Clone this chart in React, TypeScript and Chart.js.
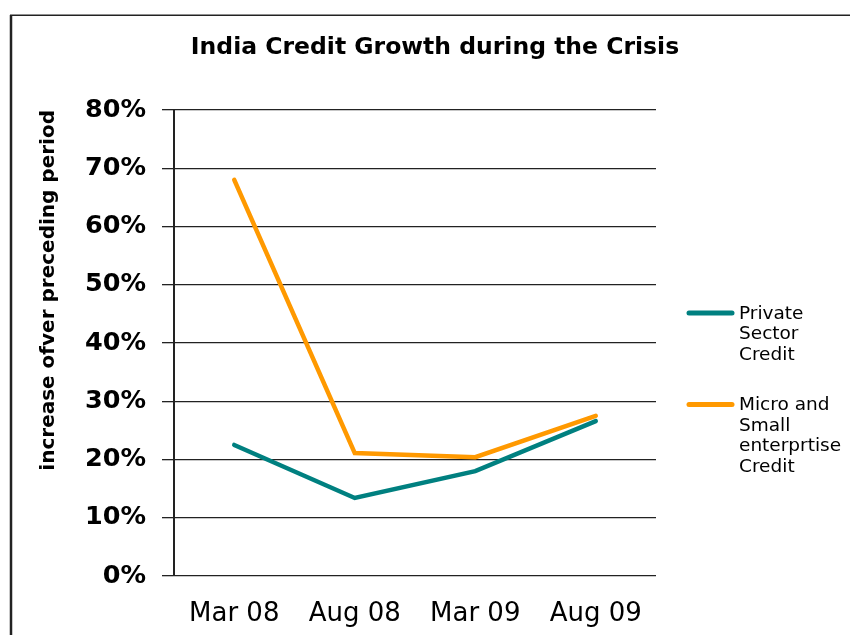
import React, { useEffect, useRef } from 'react';
import { Chart, registerables } from 'chart.js';

Chart.register(...registerables);

const chartTitle = 'India Credit Growth during the Crisis';
const yAxisTitle = 'increase ofver preceding period';
const categories = ['Mar 08', 'Aug 08', 'Mar 09', 'Aug 09'];
const privateSectorCredit = [22.5, 13.4, 18.0, 26.6];
const microSmallCredit = [68.0, 21.1, 20.4, 27.5];
const seriesLabels = ['Private Sector Credit', 'Micro and Small enterprtise Credit'];
const seriesColors = ['#008080', '#FF9900'];
const yMin = 0;
const yMax = 80;
const yStep = 10;

const FONT = "'DejaVu Sans', 'Liberation Sans', Arial, sans-serif";

function wrapWords(ctx: CanvasRenderingContext2D, text: string, maxW: number): string[] {
  const words = text.split(' ');
  const lines: string[] = [];
  let cur = '';
  for (const w of words) {
    const test = cur ? cur + ' ' + w : w;
    if (cur && ctx.measureText(test).width > maxW) {
      lines.push(cur);
      cur = w;
    } else {
      cur = test;
    }
  }
  if (cur) lines.push(cur);
  return lines;
}

const decorPlugin = {
  id: 'decor',
  beforeDraw(chart: any) {
    const ctx: CanvasRenderingContext2D = chart.ctx;
    ctx.save();
    ctx.fillStyle = '#ffffff';
    ctx.fillRect(0, 0, chart.width, chart.height);
    ctx.strokeStyle = '#222222';
    ctx.lineWidth = 2.5;
    ctx.beginPath();
    ctx.moveTo(11, chart.height);
    ctx.lineTo(11, 15);
    ctx.stroke();
    ctx.lineWidth = 1.5;
    ctx.beginPath();
    ctx.moveTo(10, 15.25);
    ctx.lineTo(chart.width, 15.25);
    ctx.stroke();
    ctx.restore();
  },
  afterDraw(chart: any) {
    const ctx: CanvasRenderingContext2D = chart.ctx;
    const area = chart.chartArea;
    ctx.save();
    // title
    ctx.fillStyle = '#000000';
    ctx.font = `bold 23.5px ${FONT}`;
    ctx.textAlign = 'center';
    ctx.textBaseline = 'middle';
    ctx.fillText(chartTitle, 435, 48);
    // legend
    const lx0 = area.right + 33;
    const lx1 = area.right + 76;
    const tx = area.right + 83;
    const lineH = 20.5;
    let y = area.top + 203;
    ctx.font = `18.5px ${FONT}`;
    ctx.textAlign = 'left';
    const maxW = chart.width - tx - 2;
    chart.data.datasets.forEach((ds: any) => {
      const lines = wrapWords(ctx, ds.label, maxW);
      ctx.strokeStyle = ds.borderColor;
      ctx.lineWidth = 5;
      ctx.lineCap = 'round';
      ctx.beginPath();
      ctx.moveTo(lx0, y);
      ctx.lineTo(lx1, y);
      ctx.stroke();
      ctx.fillStyle = '#000000';
      lines.forEach((l, i) => ctx.fillText(l, tx, y + 1 + i * lineH));
      y += lines.length * lineH + 30;
    });
    ctx.restore();
  },
};

export default function App() {
  const canvasRef = useRef<HTMLCanvasElement | null>(null);

  useEffect(() => {
    if (!canvasRef.current) return;
    const chart = new Chart(canvasRef.current, {
      type: 'line',
      data: {
        labels: categories,
        datasets: [
          {
            label: seriesLabels[0],
            data: privateSectorCredit,
            borderColor: seriesColors[0],
            backgroundColor: seriesColors[0],
            borderWidth: 4.5,
            pointRadius: 0,
            borderCapStyle: 'round',
            tension: 0,
          },
          {
            label: seriesLabels[1],
            data: microSmallCredit,
            borderColor: seriesColors[1],
            backgroundColor: seriesColors[1],
            borderWidth: 4.5,
            pointRadius: 0,
            borderCapStyle: 'round',
            tension: 0,
          },
        ],
      },
      options: {
        animation: false,
        responsive: true,
        maintainAspectRatio: false,
        layout: { padding: { left: 0, right: 194, top: 110, bottom: 0 } },
        plugins: {
          legend: { display: false },
          title: { display: false },
          tooltip: { enabled: false },
        },
        scales: {
          x: {
            offset: true,
            grid: { display: false },
            border: { display: false },
            ticks: {
              color: '#000000',
              padding: 15,
              font: { family: FONT, size: 26 },
              maxRotation: 0,
            },
            afterFit: (scale: any) => {
              scale.height = 59;
            },
          },
          y: {
            min: yMin,
            max: yMax,
            grid: {
              color: '#222222',
              lineWidth: 1.3,
              tickLength: 12,
              drawTicks: true,
            },
            border: { display: true, color: '#222222', width: 2 },
            ticks: {
              stepSize: yStep,
              color: '#000000',
              padding: 16,
              font: { family: FONT, size: 25.5, weight: 'bold' },
              callback: (v: any) => `${v}%`,
            },
            title: {
              display: true,
              text: yAxisTitle,
              align: 'end',
              color: '#000000',
              font: { family: FONT, size: 20, weight: 'bold' },
              padding: { top: 37, bottom: 0 },
            },
            afterFit: (scale: any) => {
              scale.width = 174;
            },
          },
        },
      },
      plugins: [decorPlugin],
    } as any);
    return () => chart.destroy();
  }, []);

  return (
    <div style={{ position: 'absolute', left: 0, top: 0, width: 850, height: 635 }}>
      <canvas ref={canvasRef} />
    </div>
  );
}
